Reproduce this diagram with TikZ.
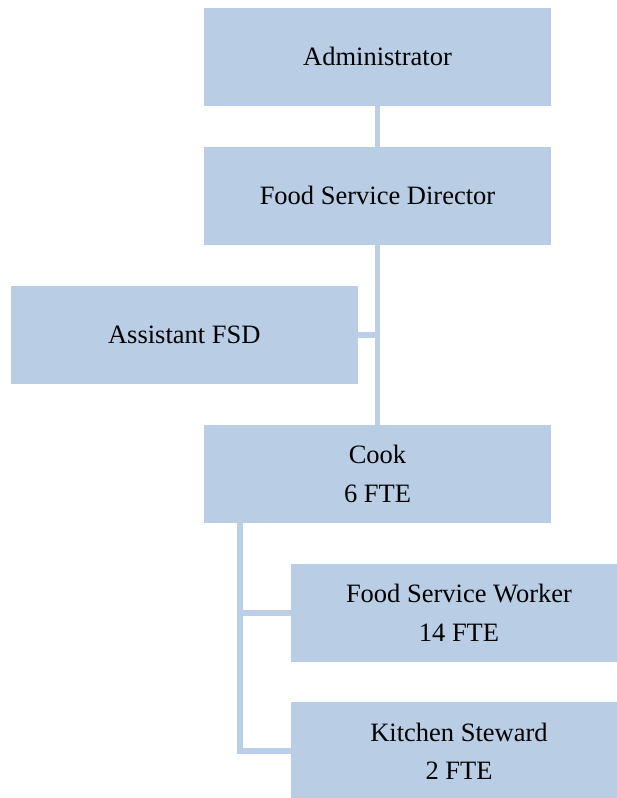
\documentclass[tikz,border=0pt]{standalone}
\usepackage{fontspec}
\setmainfont{Liberation Serif}
\definecolor{boxblue}{HTML}{B9CDE5}
\definecolor{connblue}{HTML}{BCCFE6}
\begin{document}
\begin{tikzpicture}[x=1pt,y=-1pt,
  orgbox/.style={fill=boxblue, draw=none, inner sep=0pt, align=center,
    font=\fontsize{26.5}{38.3}\selectfont},
  wide/.style={minimum width=347pt, minimum height=97.6pt},
  narrow/.style={minimum width=336pt, minimum height=97.6pt},
  conn/.style={draw=connblue, line width=5.5pt}]
\useasboundingbox (0,0) rectangle (616,798);
\node[orgbox, wide] (adm) at (377.5,56.8) {Administrator};
\node[orgbox, wide] (fsd) at (377.5,195.7) {Food Service Director};
\node[orgbox, minimum width=346.7pt, minimum height=97.6pt] (asst) at (184.3,334.8) {Assistant FSD};
\node[orgbox, wide] (cook) at (377.5,473.8) {Cook\\6 FTE};
\node[orgbox, narrow] (fsw) at (459,612.8) {Food Service Worker\\14 FTE};
\node[orgbox, narrow] (ks) at (459,751) {Kitchen Steward\\2 FTE};
\coordinate (cb) at (240,522.7);
\begin{scope}[on background layer/.try]
\end{scope}
\draw[conn] (adm.south) -- (fsd.north);
\draw[conn] (fsd.south) -- (cook.north);
\draw[conn] (asst.east) -- (asst.east -| fsd.south);
\draw[conn] (cb) |- (fsw.west);
\draw[conn] (cb) |- (ks.west);
\end{tikzpicture}
\end{document}
